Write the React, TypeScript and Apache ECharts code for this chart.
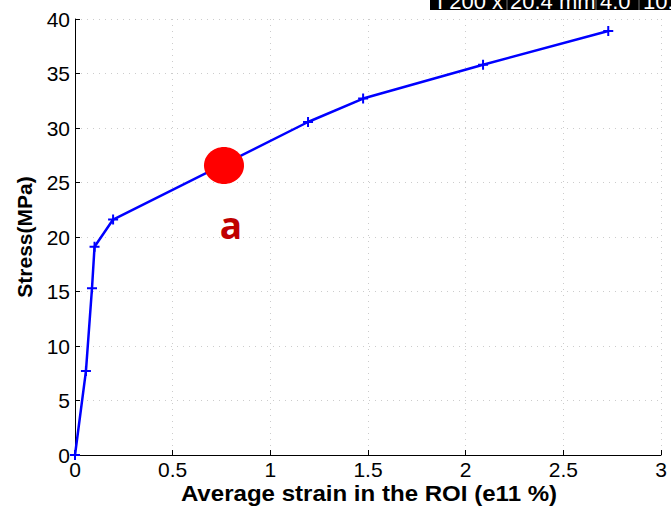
import React, { useEffect, useRef } from "react";
import * as echarts from "echarts";

const strain = [0, 0.056, 0.087, 0.1, 0.195, 1.193, 1.475, 2.089, 2.73];
const stress = [0, 7.7, 15.3, 19.1, 21.6, 30.55, 32.7, 35.8, 38.9];
const xTicks = { min: 0, max: 3, interval: 0.5 };
const yTicks = { min: 0, max: 40, interval: 5 };
const xTitle = "Average strain in the ROI (e11 %)";
const yTitle = "Stress(MPa)";
const headerTexts = ["I 200 x", "20.4 mm", "4.0", "10."];

const PLUS = "path://M0,4h10v2h-10zM4,0h2v10h-2z";

export default function App() {
  const ref = useRef<HTMLDivElement>(null);
  useEffect(() => {
    if (!ref.current) return;
    const chart = echarts.init(ref.current, null, { renderer: "svg" });
    const font = "'Liberation Sans', Arial, Helvetica, sans-serif";
    const hdrFont = `22px ${font}`;
    chart.setOption({
      animation: false,
      backgroundColor: "#ffffff",
      grid: { left: 75, right: 10, top: 19, bottom: 53, containLabel: false, outerBoundsMode: "none" },
      xAxis: {
        type: "value",
        min: xTicks.min,
        max: xTicks.max,
        interval: xTicks.interval,
        axisLine: { lineStyle: { color: "#000", width: 1 } },
        axisTick: { inside: true, length: 5, lineStyle: { color: "#000" } },
        axisLabel: { fontFamily: font, fontSize: 21, color: "#000", margin: 4 },
        splitLine: { show: true, lineStyle: { color: "#cccccc", type: [1, 5], width: 1 } },
      },
      yAxis: {
        type: "value",
        min: yTicks.min,
        max: yTicks.max,
        interval: yTicks.interval,
        name: yTitle,
        nameLocation: "middle",
        nameGap: 40,
        nameTextStyle: { fontFamily: font, fontWeight: "bold", fontSize: 21, color: "#000" },
        axisLine: { show: true, lineStyle: { color: "#000", width: 1 } },
        axisTick: { show: true, inside: true, length: 5, lineStyle: { color: "#000" } },
        axisLabel: { fontFamily: font, fontSize: 21, color: "#000", margin: 5 },
        splitLine: { show: true, lineStyle: { color: "#cccccc", type: [1, 5], width: 1 } },
      },
      series: [
        {
          type: "line",
          data: strain.map((x, i) => [x, stress[i]]),
          lineStyle: { color: "#0000ff", width: 2.5 },
          itemStyle: { color: "#0000ff" },
          symbol: PLUS,
          symbolSize: 10,
          showSymbol: true,
          z: 3,
        },
      ],
      graphic: [
        {
          type: "text",
          x: 369,
          y: 482,
          scaleX: 1.12,
          style: {
            text: xTitle,
            fill: "#000",
            font: `bold 21.5px ${font}`,
            align: "center",
            verticalAlign: "top",
          },
        },
        {
          type: "group",
          x: 430,
          y: 0,
          children: [
            { type: "rect", shape: { x: 0, y: 0, width: 241, height: 10 }, style: { fill: "#000" } },
            { type: "text", x: 7, y: 1, style: { text: headerTexts[0], fill: "#fff", font: hdrFont, verticalAlign: "middle" } },
            { type: "line", shape: { x1: 77, y1: 0, x2: 77, y2: 10 }, style: { stroke: "#777", lineWidth: 1 } },
            { type: "text", x: 80, y: 1, style: { text: headerTexts[1], fill: "#fff", font: hdrFont, verticalAlign: "middle" } },
            { type: "line", shape: { x1: 166, y1: 0, x2: 166, y2: 10 }, style: { stroke: "#777", lineWidth: 1 } },
            { type: "text", x: 170, y: 1, style: { text: headerTexts[2], fill: "#fff", font: hdrFont, verticalAlign: "middle" } },
            { type: "line", shape: { x1: 209, y1: 0, x2: 209, y2: 10 }, style: { stroke: "#777", lineWidth: 1 } },
            { type: "text", x: 213, y: 1, style: { text: headerTexts[3], fill: "#fff", font: hdrFont, verticalAlign: "middle" } },
          ],
        },
        {
          type: "ellipse",
          shape: { cx: 224, cy: 165.5, rx: 20, ry: 18.5 },
          style: { fill: "#ff0000" },
          z: 10,
        },
        {
          type: "text",
          x: 231,
          y: 224,
          style: {
            text: "a",
            fill: "#c00000",
            font: "bold 37px 'Open Sans', Lato, sans-serif",
            align: "center",
            verticalAlign: "middle",
          },
          z: 10,
        },
      ],
    });
    return () => chart.dispose();
  }, []);
  return (
    <div
      ref={ref}
      style={{ position: "fixed", left: 0, top: 0, width: 671, height: 508 }}
    />
  );
}
